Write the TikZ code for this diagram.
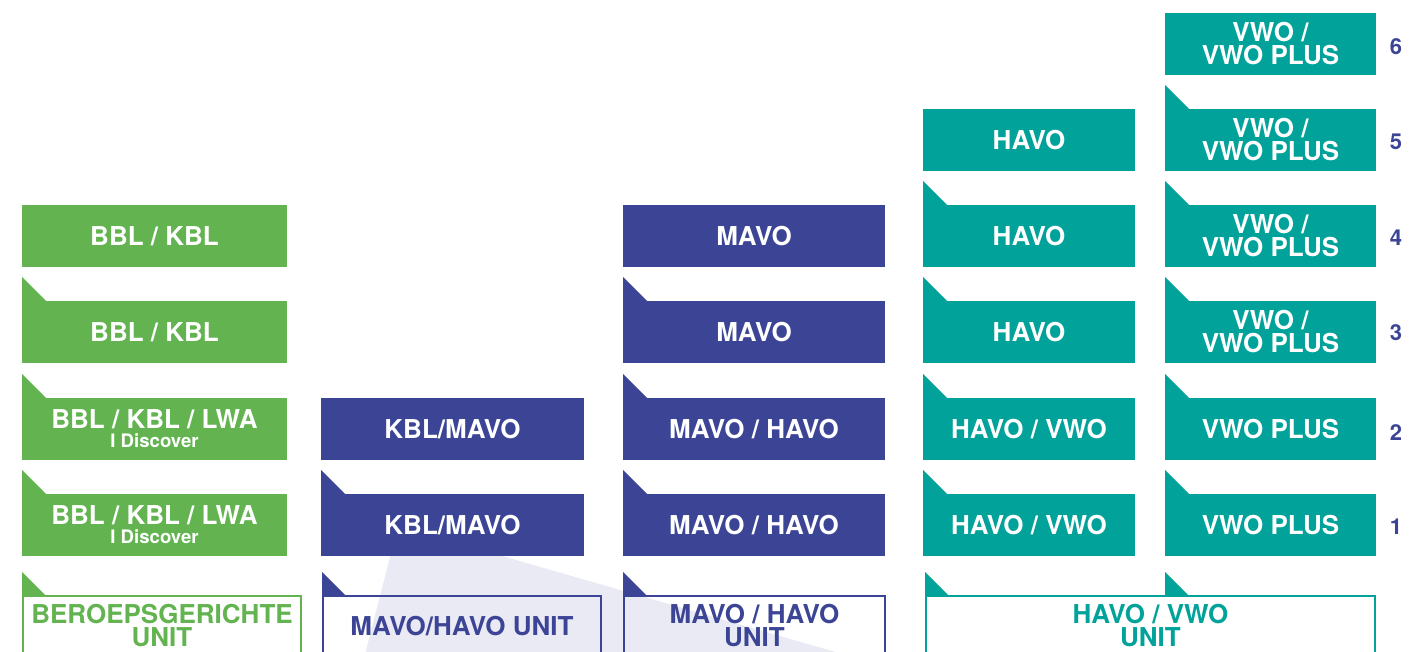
\documentclass[tikz,border=0pt]{standalone}
\usepackage{fontspec}
\setmainfont{TeX Gyre Heros}
\definecolor{unitgreen}{HTML}{63B450}
\definecolor{unitpurple}{HTML}{3C4595}
\definecolor{unitteal}{HTML}{00A29A}
\definecolor{wedgegrey}{HTML}{E9EAF3}
\tikzset{
  level box/.style={
    inner sep=0pt,
    outer sep=0pt,
    minimum height=31pt,
    text=white,
    align=center,
    font=\bfseries\fontsize{13}{11.5}\selectfont,
  },
  unit box/.style={
    draw,
    line width=1pt,
    inner sep=0pt,
    outer sep=0pt,
    minimum height=30pt,
    align=center,
    font=\bfseries\fontsize{13}{11.5}\selectfont,
  },
  year label/.style={
    text=unitpurple,
    font=\bfseries\fontsize{11}{11}\selectfont,
  },
}

\begin{document}
\begin{tikzpicture}[x=0.5pt, y=-0.5pt]
      \useasboundingbox (0,0) rectangle (1421,652);
      \clip (0,0) rectangle (1421,652);

      % light wedge behind the units
      \fill[wedgegrey] (398,526) -- (361,670) -- (898,670) -- cycle;

      % beroepsgericht
      \node[level box, fill=unitgreen, minimum width=132.5pt] (g4) at (154.5,236) {BBL / KBL};
      \node[level box, fill=unitgreen, minimum width=132.5pt] (g3) at (154.5,332) {BBL / KBL};
      \node[level box, fill=unitgreen, minimum width=132.5pt] (g2) at (154.5,429)
        {BBL / KBL / LWA\\[-2pt]{\fontsize{9.3}{9}\selectfont I Discover}};
      \node[level box, fill=unitgreen, minimum width=132.5pt] (g1) at (154.5,525)
        {BBL / KBL / LWA\\[-2pt]{\fontsize{9.3}{9}\selectfont I Discover}};
      \node[unit box, draw=unitgreen, text=unitgreen, minimum width=139pt] (gu) at (162,626)
        {BEROEPSGERICHTE\\UNIT};

      % kbl / mavo
      \node[level box, fill=unitpurple, minimum width=131.5pt] (k2) at (452.5,429) {KBL/MAVO};
      \node[level box, fill=unitpurple, minimum width=131.5pt] (k1) at (452.5,525) {KBL/MAVO};
      \node[unit box, draw=unitpurple, text=unitpurple, minimum width=139pt] (ku) at (462,626)
        {MAVO/HAVO UNIT};

      % mavo
      \node[level box, fill=unitpurple, minimum width=131pt] (m4) at (754,236) {MAVO};
      \node[level box, fill=unitpurple, minimum width=131pt] (m3) at (754,332) {MAVO};
      \node[level box, fill=unitpurple, minimum width=131pt] (m2) at (754,429) {MAVO / HAVO};
      \node[level box, fill=unitpurple, minimum width=131pt] (m1) at (754,525) {MAVO / HAVO};
      \node[unit box, draw=unitpurple, text=unitpurple, minimum width=130.5pt] (mu) at (754.5,626)
        {MAVO / HAVO\\UNIT};

      % havo
      \node[level box, fill=unitteal, minimum width=106pt] (h5) at (1029,140) {HAVO};
      \node[level box, fill=unitteal, minimum width=106pt] (h4) at (1029,236) {HAVO};
      \node[level box, fill=unitteal, minimum width=106pt] (h3) at (1029,332) {HAVO};
      \node[level box, fill=unitteal, minimum width=106pt] (h2) at (1029,429) {HAVO / VWO};
      \node[level box, fill=unitteal, minimum width=106pt] (h1) at (1029,525) {HAVO / VWO};

      % vwo
      \node[level box, fill=unitteal, minimum width=105.5pt] (v6) at (1270.5,44) {VWO /\\VWO PLUS};
      \node[level box, fill=unitteal, minimum width=105.5pt] (v5) at (1270.5,140) {VWO /\\VWO PLUS};
      \node[level box, fill=unitteal, minimum width=105.5pt] (v4) at (1270.5,236) {VWO /\\VWO PLUS};
      \node[level box, fill=unitteal, minimum width=105.5pt] (v3) at (1270.5,332) {VWO /\\VWO PLUS};
      \node[level box, fill=unitteal, minimum width=105.5pt] (v2) at (1270.5,429) {VWO PLUS};
      \node[level box, fill=unitteal, minimum width=105.5pt] (v1) at (1270.5,525) {VWO PLUS};
      \node[unit box, draw=unitteal, text=unitteal, minimum width=224.5pt] (hu) at (1150.5,626)
        {HAVO / VWO\\UNIT};
      \coordinate (vu) at (v1.west |- hu.north);

      % tabs
      \foreach \n/\c in {g3/unitgreen, g2/unitgreen, g1/unitgreen,
                         k1/unitpurple, m3/unitpurple, m2/unitpurple, m1/unitpurple,
                         h4/unitteal, h3/unitteal, h2/unitteal, h1/unitteal,
                         v5/unitteal, v4/unitteal, v3/unitteal, v2/unitteal, v1/unitteal}
        \fill[\c] (\n.north west) -- ++(0,-24) -- ++(24,24) -- cycle;
      \fill[unitgreen] ([xshift=-0.5pt]gu.north west) -- ++(0,-24) -- ++(24,24) -- cycle;
      \fill[unitpurple] ([xshift=-0.5pt]ku.north west) -- ++(0,-24) -- ++(24,24) -- cycle;
      \fill[unitpurple] ([xshift=-0.5pt]mu.north west) -- ++(0,-24) -- ++(24,24) -- cycle;
      \fill[unitteal] ([xshift=-0.5pt]hu.north west) -- ++(0,-24) -- ++(24,24) -- cycle;
      \fill[unitteal] (vu) -- ++(0,-24) -- ++(24,24) -- cycle;

      % years
      \node[year label] (y6) at (1396,47) {6};
      \node[year label] (y5) at (1396,142) {5};
      \node[year label] (y4) at (1396,238) {4};
      \node[year label] (y3) at (1396,333) {3};
      \node[year label] (y2) at (1396,433) {2};
      \node[year label] (y1) at (1396,527) {1};
    \end{tikzpicture}
\end{document}
